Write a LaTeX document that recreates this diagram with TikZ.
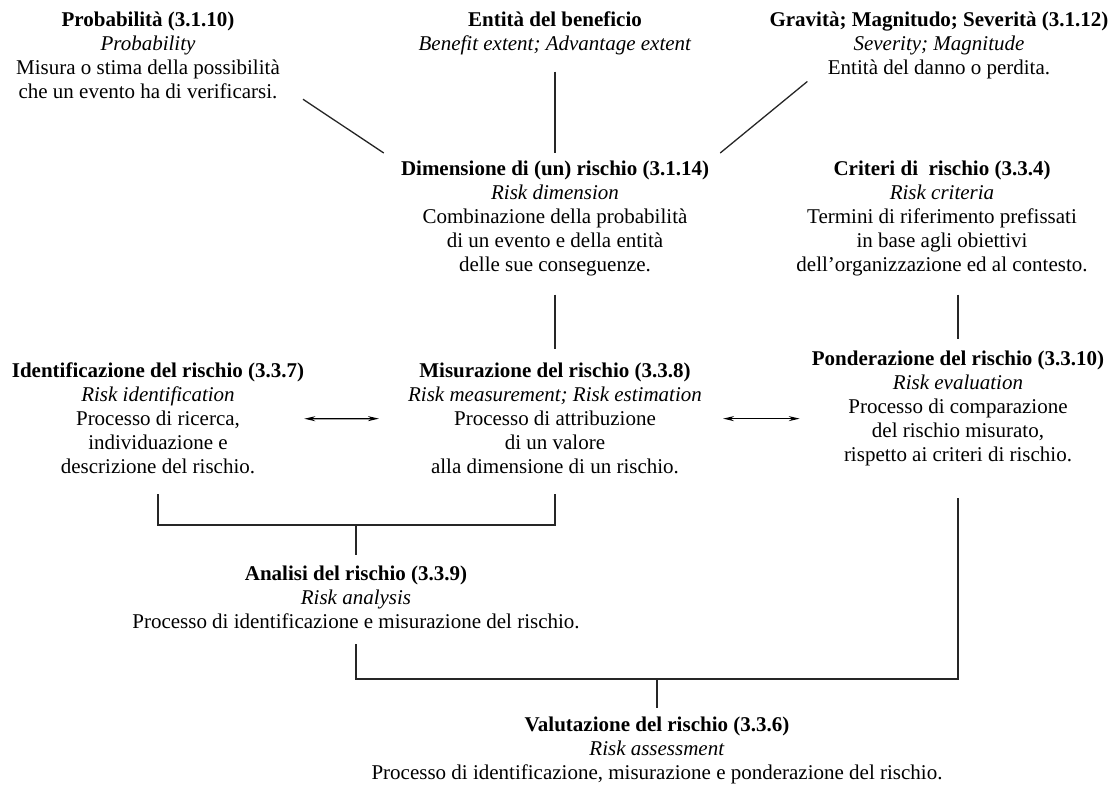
\documentclass[tikz,border=0pt]{standalone}
\usepackage{fontspec}
\setmainfont{Liberation Serif}
\usetikzlibrary{arrows.meta}

\begin{document}
\begin{tikzpicture}[
  x=1pt, y=-1pt,
  term/.style={align=center, inner sep=0pt, anchor=north,
    font=\fontsize{21}{24}\selectfont},
  link/.style={line width=1.3pt, draw=black!85},
  both/.style={{Stealth[length=11pt, width=5pt]}-{Stealth[length=11pt, width=5pt]}, line width=1.3pt},
]
\useasboundingbox (0,0) rectangle (1119,787);

% riga in alto
\node[term] (prob) at (148,12) {\textbf{Probabilità (3.1.10)}\\\textit{Probability}\\
  Misura o stima della possibilità\\che un evento ha di verificarsi.};
\node[term] (ent) at (555,12) {\textbf{Entità del beneficio}\\\textit{Benefit extent; Advantage extent}};
\node[term] (grav) at (939,12) {\textbf{Gravità; Magnitudo; Severità (3.1.12)}\\\textit{Severity; Magnitude}\\
  Entità del danno o perdita.};

% dimensione e criteri
\node[term] (dim) at (555,161) {\textbf{Dimensione di (un) rischio (3.1.14)}\\\textit{Risk dimension}\\
  Combinazione della probabilità\\di un evento e della entità\\delle sue conseguenze.};
\node[term] (crit) at (942,161) {\textbf{Criteri di~ rischio (3.3.4)}\\\textit{Risk criteria}\\
  Termini di riferimento prefissati\\in base agli obiettivi\\dell'organizzazione ed al contesto.};

% riga centrale
\node[term] (ident) at (158,363) {\textbf{Identificazione del rischio (3.3.7)}\\\textit{Risk identification}\\
  Processo di ricerca,\\individuazione e\\descrizione del rischio.};
\node[term] (mis) at (555,363) {\textbf{Misurazione del rischio (3.3.8)}\\\textit{Risk measurement; Risk estimation}\\
  Processo di attribuzione\\di un valore\\alla dimensione di un rischio.};
\node[term] (pond) at (958,351) {\textbf{Ponderazione del rischio (3.3.10)}\\\textit{Risk evaluation}\\
  Processo di comparazione\\del rischio misurato,\\rispetto ai criteri di rischio.};

% analisi e valutazione
\node[term] (anal) at (356,566) {\textbf{Analisi del rischio (3.3.9)}\\\textit{Risk analysis}\\
  Processo di identificazione e misurazione del rischio.};
\node[term] (val) at (657,717) {\textbf{Valutazione del rischio (3.3.6)}\\\textit{Risk assessment}\\
  Processo di identificazione, misurazione e ponderazione del rischio.};

% collegamenti verso la dimensione
\draw[link] ([xshift=23pt]prob.south east) -- ([xshift=-17pt, yshift=8pt]dim.north west);
\draw[link] ([yshift=-16pt]ent.south) -- ([yshift=8pt]dim.north);
\draw[link] ([xshift=38pt, yshift=-2pt]grav.south west) -- ([xshift=11pt, yshift=8pt]dim.north east);

% collegamenti verticali
\draw[link] ([yshift=-18pt]dim.south) -- ([yshift=14pt]mis.north);
\draw[link] ([yshift=-18pt]crit.south -| pond.north) -- ([yshift=12pt]pond.north);

% frecce
\draw[both] (ident.east) -- ([xshift=-29pt]mis.west);
\draw[both] ([xshift=21pt]mis.east) -- ([xshift=-12pt]mis.east -| pond.west);

% analisi
\coordinate (jA) at (356,525);
\draw[link] ([yshift=-20pt]ident.south) |- (jA) -| ([yshift=-20pt]mis.south);
\draw[link] (jA) -- ([yshift=11pt]anal.north);

% valutazione
\coordinate (jB) at (657,679);
\draw[link] ([yshift=-15pt]anal.south) |- (jB) -| ([yshift=-32pt]pond.south);
\draw[link] (jB) -- ([yshift=9pt]val.north);

\end{tikzpicture}
\end{document}
